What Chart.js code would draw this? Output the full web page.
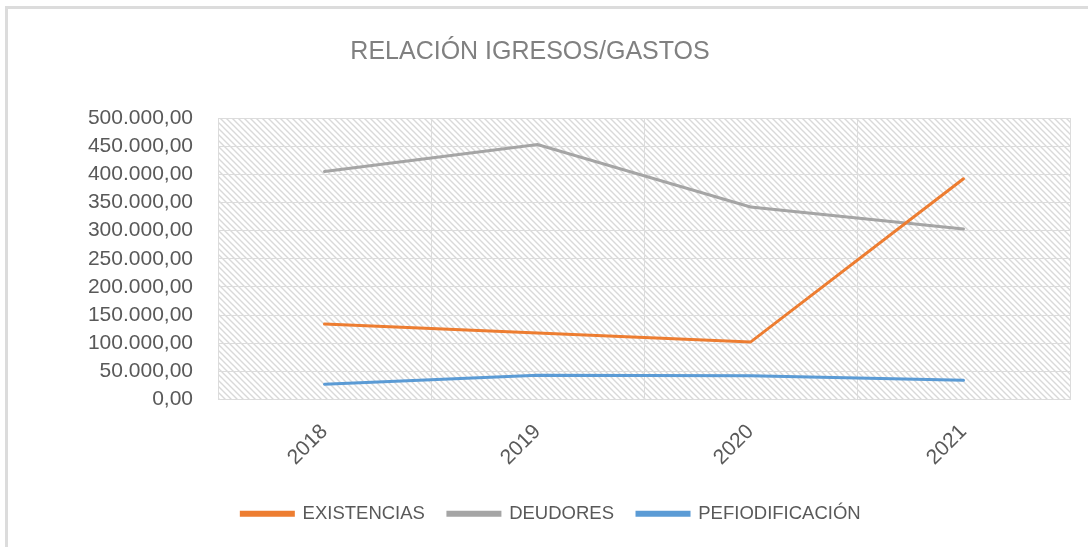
<!DOCTYPE html>
<html>
<head>
<meta charset="utf-8">
<script src="https://cdn.jsdelivr.net/npm/chart.js@4"></script>
<style>
  body { margin: 0; background: #fff; }
  #wrap { position: relative; width: 1088px; height: 547px; overflow: hidden; }
  #frame { position: absolute; left: 5px; top: 6px; right: -10px; bottom: -10px;
    border-top: 3px solid #dcdcdc; border-left: 3px solid #dcdcdc; }
  #chart { position: absolute; left: 0; top: 0; }
</style>
</head>
<body>
<div id="wrap">
  <div id="frame"></div>
  <canvas id="chart" width="1088" height="547"></canvas>
</div>
<script>
const years = ['2018', '2019', '2020', '2021'];
const existencias = [134000, 118000, 102000, 392000];
const deudores = [405000, 453000, 342000, 303000];
const periodificacion = [27000, 43000, 42000, 34000];

const formatNum = (v) => {
  const int = Math.round(v).toString().replace(/\B(?=(\d{3})+(?!\d))/g, '.');
  return int + ',00';
};

// diagonal hatch for the plot area
const makeHatch = () => {
  const s = 6;
  const c = document.createElement('canvas');
  c.width = s; c.height = s;
  const g = c.getContext('2d');
  g.strokeStyle = '#d9d9d9';
  g.lineWidth = 1.4;
  g.beginPath();
  g.moveTo(-1, -1); g.lineTo(s + 1, s + 1);
  g.moveTo(-1, s - 1); g.lineTo(1, s + 1);
  g.moveTo(s - 1, -1); g.lineTo(s + 1, 1);
  g.stroke();
  return c;
};

const hatchPlugin = {
  id: 'hatch',
  afterLayout(chart) {
    // nudge title and legend sideways like the original
    if (chart.titleBlock) { chart.titleBlock.left -= 5; chart.titleBlock.right -= 5; }
    if (chart.legend) { chart.legend.left += 16; chart.legend.right += 16; }
  },
  beforeDraw(chart) {
    const { ctx, chartArea } = chart;
    const pat = ctx.createPattern(makeHatch(), 'repeat');
    ctx.save();
    ctx.fillStyle = pat;
    ctx.fillRect(chartArea.left, chartArea.top, chartArea.right - chartArea.left, chartArea.bottom - chartArea.top);
    ctx.restore();
  }
};

const tickFont = { family: 'Liberation Sans', size: 21 };

const ctx = document.getElementById('chart').getContext('2d');
new Chart(ctx, {
  type: 'line',
  data: {
    labels: years,
    datasets: [
      { label: 'EXISTENCIAS', data: existencias, borderColor: '#ED7D31', backgroundColor: '#ED7D31' },
      { label: 'DEUDORES', data: deudores, borderColor: '#A5A5A5', backgroundColor: '#A5A5A5' },
      { label: 'PEFIODIFICACIÓN', data: periodificacion, borderColor: '#5B9BD5', backgroundColor: '#5B9BD5' }
    ]
  },
  options: {
    responsive: false,
    animation: false,
    layout: { padding: { left: 0, right: 18, top: 0, bottom: 14 } },
    elements: {
      line: { borderWidth: 3, tension: 0, borderCapStyle: 'round' },
      point: { radius: 0 }
    },
    scales: {
      x: {
        offset: true,
        grid: { offset: true, color: '#dcdcdc', lineWidth: 1, drawTicks: false },
        border: { color: '#dcdcdc' },
        ticks: { color: '#595959', font: tickFont, minRotation: 45, maxRotation: 45, padding: 20 },
        afterFit: (scale) => { scale.height = 82; }
      },
      y: {
        min: 0,
        max: 500000,
        grid: { color: '#dcdcdc', lineWidth: 1, drawTicks: false },
        border: { color: '#dcdcdc' },
        ticks: { stepSize: 50000, autoSkip: false, color: '#595959', font: tickFont, padding: 25, callback: (v) => formatNum(v) },
        afterFit: (scale) => { scale.width = 218; }
      }
    },
    plugins: {
      title: {
        display: true,
        text: 'RELACIÓN IGRESOS/GASTOS',
        color: '#808080',
        font: { family: 'Liberation Sans', size: 25, weight: 'normal' },
        padding: { top: 37, bottom: 51 }
      },
      legend: {
        position: 'bottom',
        labels: {
          color: '#595959',
          font: { family: 'Liberation Sans', size: 18.5 },
          boxWidth: 52,
          boxHeight: 3,
          padding: 23
        }
      },
      tooltip: { enabled: false }
    }
  },
  plugins: [hatchPlugin]
});
</script>
</body>
</html>
